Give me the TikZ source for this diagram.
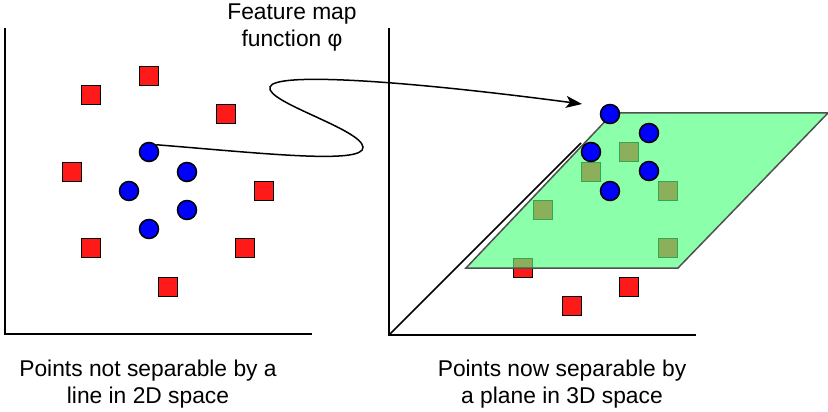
\documentclass[tikz,border=0pt]{standalone}
\usepackage{fontspec}
\setmainfont{Liberation Sans}
\usetikzlibrary{arrows.meta}
\definecolor{sqred}{RGB}{255,26,26}
\definecolor{dotblue}{RGB}{0,0,255}
\definecolor{planegreen}{RGB}{78,255,125}
\definecolor{planeedge}{RGB}{80,80,80}
\tikzset{
  redsq/.style={draw=black, fill=sqred, line width=1.2pt, minimum size=19pt, inner sep=0pt, shape=rectangle},
  bluedot/.style={draw=black, fill=dotblue, line width=1.5pt, minimum size=19pt, inner sep=0pt, shape=circle},
  axis/.style={draw=black, line width=1.5pt},
  lbl/.style={font=\fontsize{22.8}{27}\selectfont, align=center, inner sep=0pt},
}
\begin{document}
\begin{tikzpicture}[x=1pt, y=-1pt]
\useasboundingbox (0,0) rectangle (828,412);
% left axes
\draw[axis] (5,28) -- (5,334) -- (312,334);
% right axes
\draw[axis] (389,28) -- (389,335) -- (696,335);
\draw[axis] (389,335) -- (581,143);
% left points
\node[redsq] (l1) at (149,76) {};
\node[redsq] (l2) at (91,95) {};
\node[redsq] (l3) at (226,114) {};
\node[redsq] (l4) at (72,172) {};
\node[redsq] (l5) at (264,191) {};
\node[redsq] (l6) at (91,248) {};
\node[redsq] (l7) at (245,248) {};
\node[redsq] (l8) at (168,287) {};
\node[bluedot] (lb1) at (149,152) {};
\node[bluedot] (lb2) at (187,172) {};
\node[bluedot] (lb3) at (129,191) {};
\node[bluedot] (lb4) at (187,210) {};
\node[bluedot] (lb5) at (149,229) {};
% right: squares under the plane
\node[redsq] (p1) at (629,152) {};
\node[redsq] (p2) at (591,172) {};
\node[redsq] (p3) at (668,191) {};
\node[redsq] (p4) at (543,210) {};
\node[redsq] (p5) at (668,248) {};
\node[redsq] (p6) at (523,268) {};
% plane
\fill[planegreen, fill opacity=0.65] (466,268) -- (613,113) -- (828,113) -- (678,268) -- cycle;
\draw[planeedge, line width=1.5pt] (466,268) -- (613,113) -- (828,113) -- (678,268) -- cycle;
% squares below the plane
\node[redsq] (q1) at (629,287) {};
\node[redsq] (q2) at (572,306) {};
% blue points on top
\node[bluedot] (rb1) at (610,114) {};
\node[bluedot] (rb2) at (649,133) {};
\node[bluedot] (rb3) at (591,152) {};
\node[bluedot] (rb4) at (649,171) {};
\node[bluedot] (rb5) at (610,191) {};
% feature map arrow
\coordinate (tip) at (582,104);
\draw[line width=1.5pt, -{Stealth[length=16pt, width=12pt, inset=4pt]}]
  (lb1.north east) .. controls (260,153) and (365,165) .. (363,147)
  .. controls (361,129) and (265,102) .. (270,87)
  .. controls (274,72) and (400,80) .. (tip);
% labels
\node[lbl] (fm) at (292,28) {Feature map\\function φ};
\node[lbl] (capl) at (148,384) {Points not separable by a\\line in 2D space};
\node[lbl] (capr) at (562,384) {Points now separable by\\a plane in 3D space};
\end{tikzpicture}
\end{document}
